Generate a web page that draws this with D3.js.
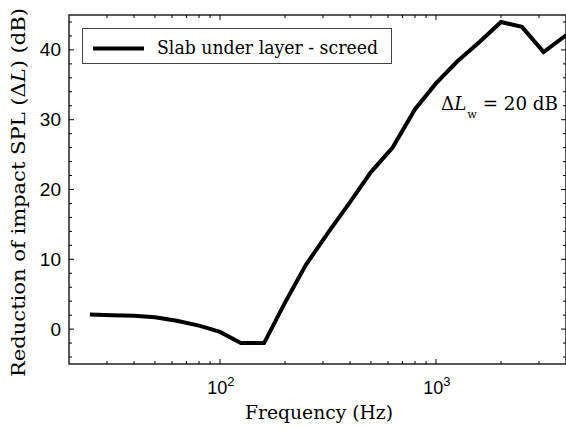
<!DOCTYPE html>
<html>
<head>
<meta charset="utf-8">
<script src="https://cdn.jsdelivr.net/npm/d3@7"></script>
<style>
  body { margin: 0; background: #fff; }
  svg { display: block; }
  .serif { font-family: "DejaVu Serif", "Liberation Serif", serif; }
  .sans { font-family: "Liberation Sans", Arial, Helvetica, sans-serif; }
</style>
</head>
<body>
<div class="container"></div>
<script>
// one-third octave band centre frequencies (Hz)
const freqs = [25, 31.5, 40, 50, 63, 80, 100, 125, 160, 200, 250, 315, 400, 500, 630, 800, 1000, 1250, 1600, 2000, 2500, 3150, 4000];
// reduction of impact sound pressure level, dB
const deltaL = [2.1, 2.0, 1.9, 1.7, 1.2, 0.5, -0.4, -2.0, -2.0, 3.8, 9.2, 13.7, 18.2, 22.5, 26.0, 31.5, 35.2, 38.3, 41.2, 44.0, 43.3, 39.7, 42.1];
const seriesName = 'Slab under layer - screed';
const yMajor = [0, 10, 20, 30, 40];
const yMinor = [-4, -2, 2, 4, 6, 8, 12, 14, 16, 18, 22, 24, 26, 28, 32, 34, 36, 38, 42, 44];
const xMajor = [100, 1000];
const xMinor = [30, 40, 50, 60, 70, 80, 90, 200, 300, 400, 500, 600, 700, 800, 900, 2000, 3000];

const width = 566;
const height = 429;
const margin = {left: 69, top: 15, right: 0, bottom: 65};

const svg = d3.select('.container')
  .append('svg')
  .attr('width', width)
  .attr('height', height);

const x = d3.scaleLog()
  .domain([20, 4000])
  .range([margin.left, width - margin.right]);

const y = d3.scaleLinear()
  .domain([-5, 45])
  .range([height - margin.bottom, margin.top]);

const x0 = x.range()[0], x1 = x.range()[1];
const y0 = y.range()[0], y1 = y.range()[1];

// stretch a text so its width matches the reference
const fit = (sel, w) => {
  const len = sel.node().getComputedTextLength();
  if (Math.abs(len - w) > 1) {
    sel.attr('textLength', w).attr('lengthAdjust', 'spacingAndGlyphs');
  }
  return sel;
};

// Inward ticks on all four sides
const tickG = svg.append('g').attr('stroke', '#000').attr('stroke-width', 1);
const addY = (vals, len) => {
  vals.forEach(v => {
    tickG.append('line').attr('x1', x0).attr('x2', x0 + len).attr('y1', y(v)).attr('y2', y(v));
    tickG.append('line').attr('x1', x1).attr('x2', x1 - len).attr('y1', y(v)).attr('y2', y(v));
  });
};
const addX = (vals, len) => {
  vals.forEach(v => {
    tickG.append('line').attr('x1', x(v)).attr('x2', x(v)).attr('y1', y0).attr('y2', y0 - len);
    tickG.append('line').attr('x1', x(v)).attr('x2', x(v)).attr('y1', y1).attr('y2', y1 + len);
  });
};
addY(yMajor, 5);
addY(yMinor, 3);
addX(xMajor, 5);
addX(xMinor, 3);

// Frame
svg.append('rect')
  .attr('x', x0).attr('y', y1)
  .attr('width', x1 - x0).attr('height', y0 - y1)
  .attr('fill', 'none')
  .attr('stroke', '#000')
  .attr('stroke-width', 1.3);

// Y tick labels
svg.append('g').selectAll('text')
  .data(yMajor)
  .join('text')
  .attr('class', 'sans')
  .attr('x', x0 - 8)
  .attr('y', d => y(d) + 6.5)
  .attr('text-anchor', 'end')
  .attr('font-size', 19)
  .text(d => d);

// X tick labels 10^n
const xl = svg.append('g').selectAll('text')
  .data(xMajor)
  .join('text')
  .attr('class', 'sans')
  .attr('x', d => x(d) + 1)
  .attr('y', 394)
  .attr('text-anchor', 'middle')
  .attr('font-size', 18);
xl.append('tspan').text('10');
xl.append('tspan').attr('font-size', 13).attr('dy', -8).text(d => Math.round(Math.log10(d)));

// Data line
svg.append('clipPath').attr('id', 'clip')
  .append('rect').attr('x', x0).attr('y', y1).attr('width', x1 - x0).attr('height', y0 - y1);

const line = d3.line()
  .x((d, i) => x(freqs[i]))
  .y(d => y(d));

svg.append('path')
  .datum(deltaL)
  .attr('clip-path', 'url(#clip)')
  .attr('d', line)
  .attr('fill', 'none')
  .attr('stroke', '#000')
  .attr('stroke-width', 4)
  .attr('stroke-linejoin', 'miter');

// Legend
const lg = svg.append('g');
lg.append('rect')
  .attr('x', 82.5).attr('y', 28.5)
  .attr('width', 309).attr('height', 35)
  .attr('fill', '#fff')
  .attr('stroke', '#444')
  .attr('stroke-width', 1);
lg.append('line')
  .attr('x1', 93).attr('x2', 144)
  .attr('y1', 48.5).attr('y2', 48.5)
  .attr('stroke', '#000')
  .attr('stroke-width', 4);
fit(lg.append('text')
  .attr('class', 'serif')
  .attr('x', 157).attr('y', 54)
  .attr('font-size', 18)
  .text(seriesName), 221);

// Annotation
const ann = svg.append('text')
  .attr('class', 'serif')
  .attr('x', 441).attr('y', 110)
  .attr('font-size', 18);
ann.append('tspan').text('\u0394');
ann.append('tspan').attr('font-style', 'italic').text('L');
ann.append('tspan').attr('font-size', 11).attr('dy', 8).attr('dx', 1).text('w');
ann.append('tspan').attr('dy', -8).text(' = 20 dB');
fit(ann, 117);

// Axis titles
fit(svg.append('text')
  .attr('class', 'serif')
  .attr('x', 245).attr('y', 419)
  .attr('font-size', 18)
  .text('Frequency (Hz)'), 148);

const yt = svg.append('text')
  .attr('class', 'serif')
  .attr('transform', 'translate(25,' + 377 + ') rotate(-90)')
  .attr('font-size', 18);
yt.append('tspan').text('Reduction of impact SPL (\u0394');
yt.append('tspan').attr('font-style', 'italic').text('L');
yt.append('tspan').text(') (dB)');
fit(yt, 369);
</script>
</body>
</html>
